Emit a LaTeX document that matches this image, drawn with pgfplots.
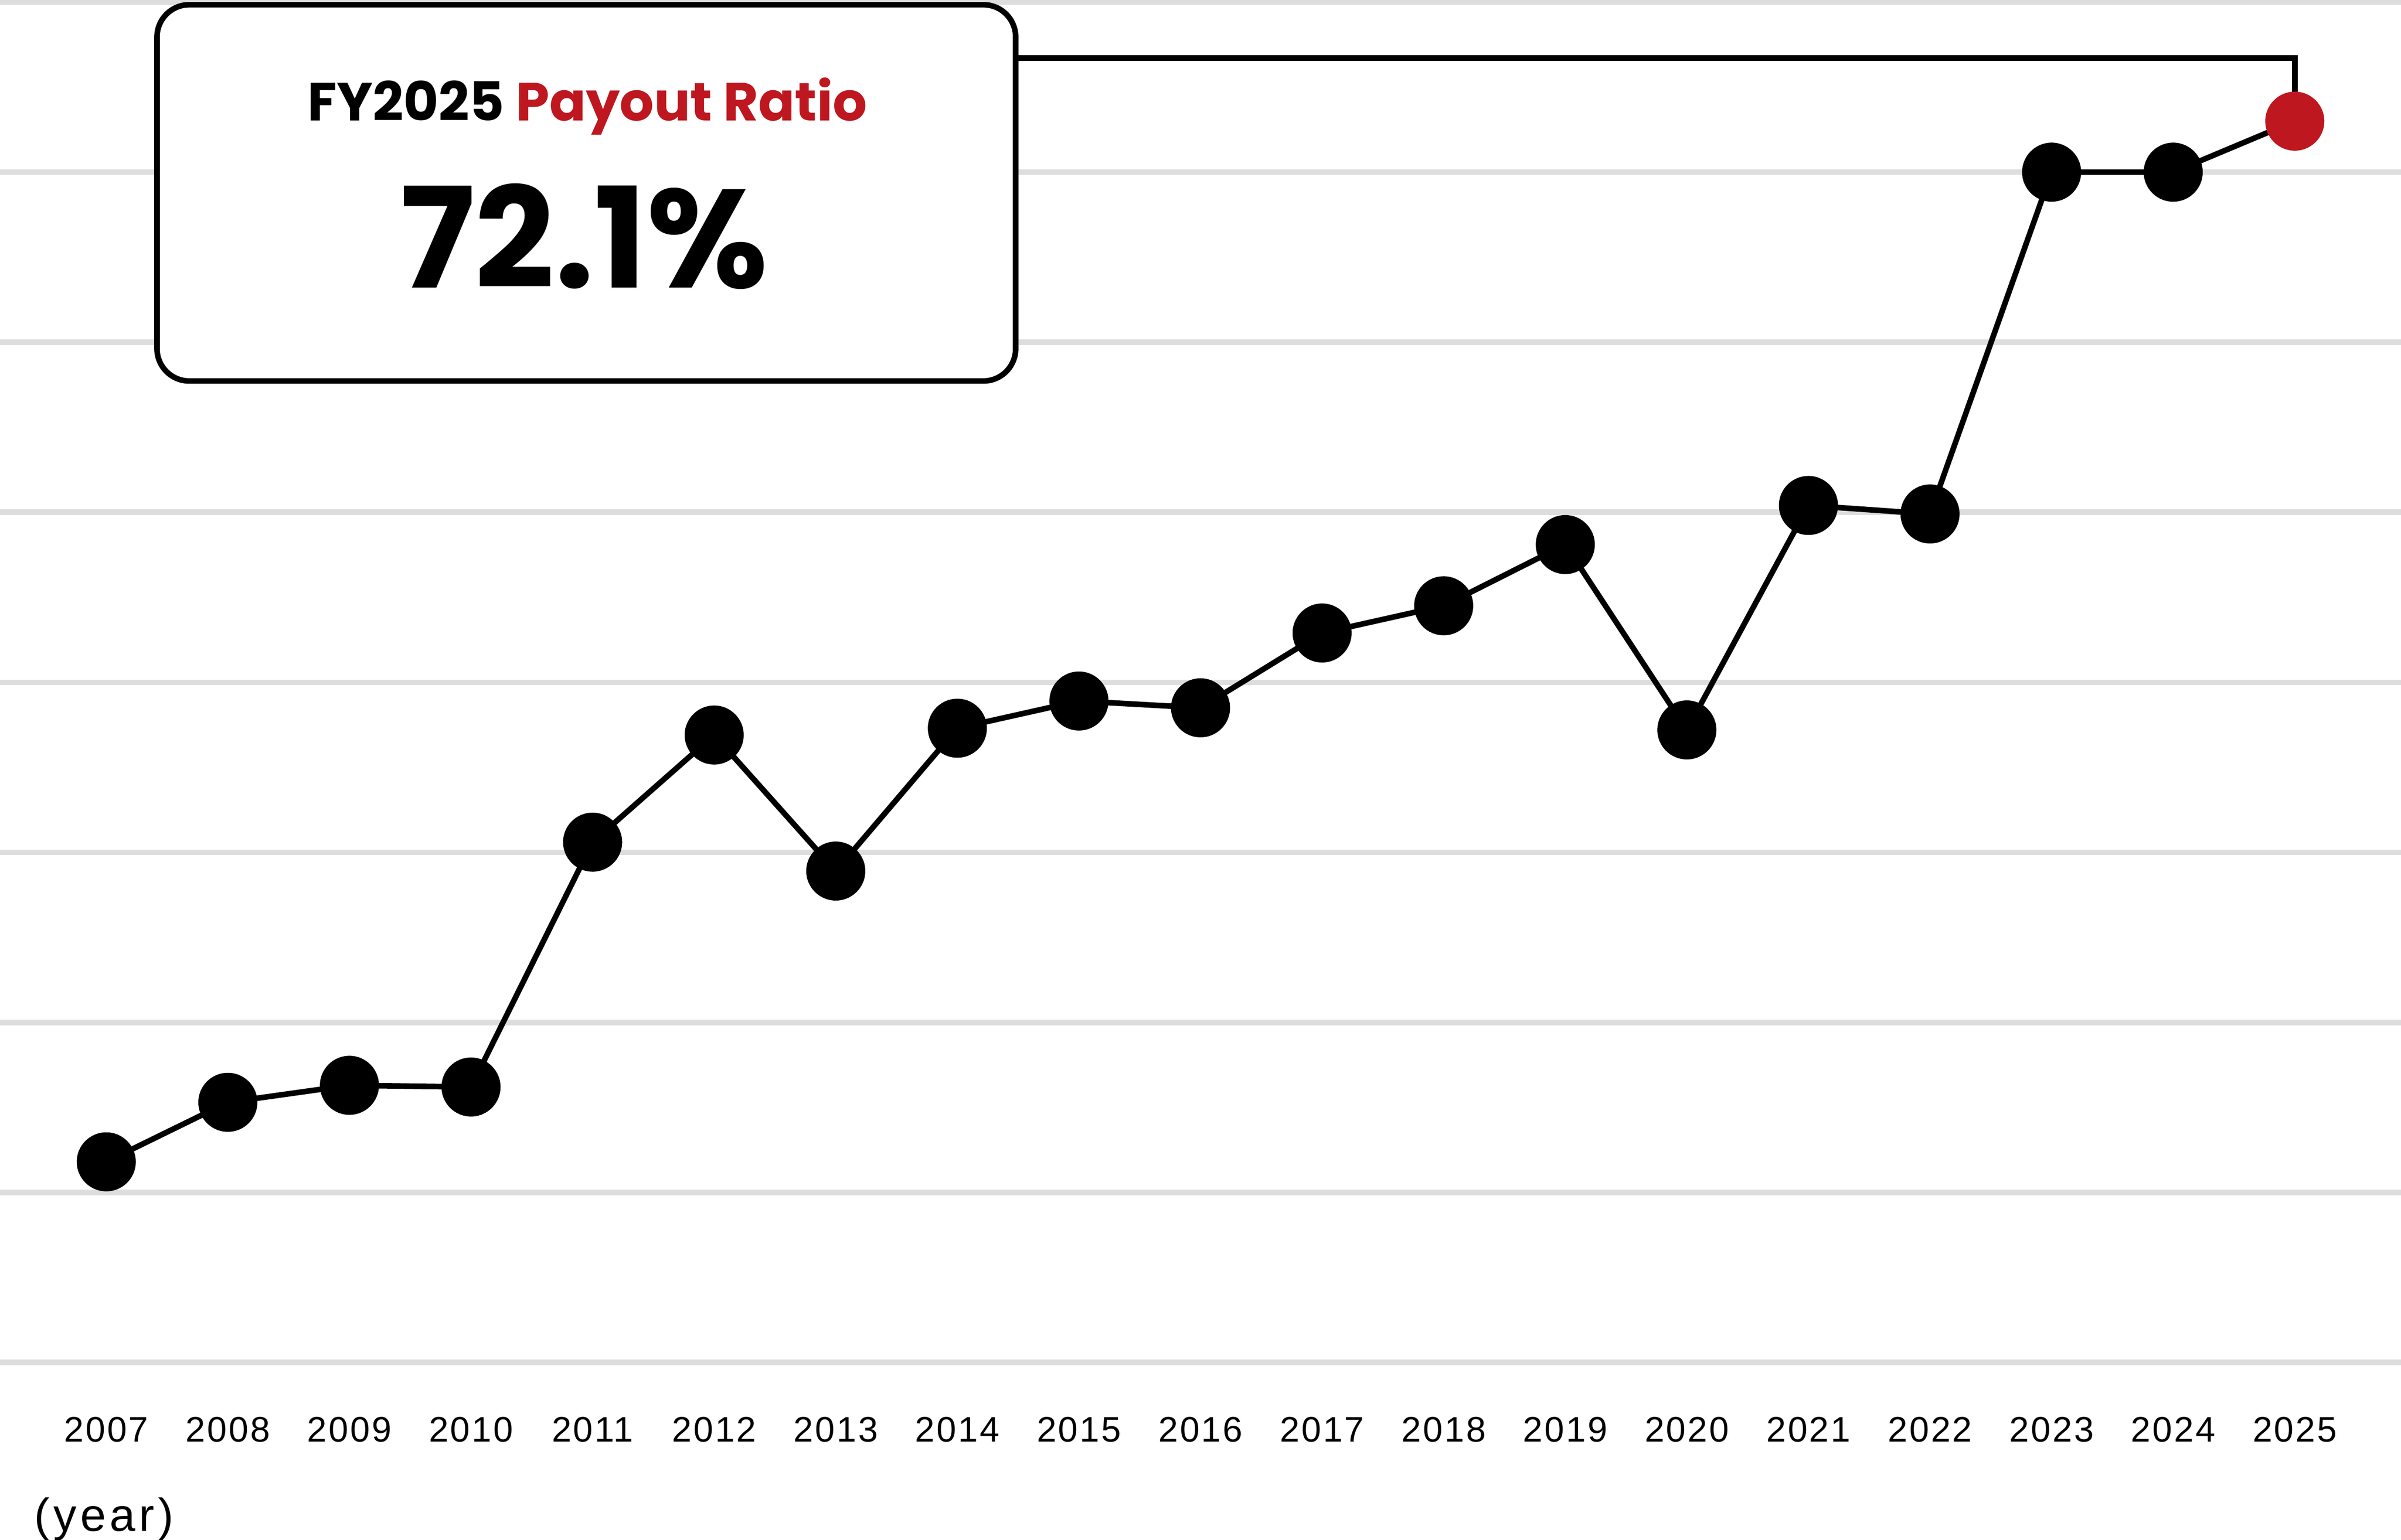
\documentclass[border=0pt]{standalone}
\usepackage{fontspec}
\usepackage{pgfplots}
\pgfplotsset{compat=1.18}
\setmainfont{Liberation Sans}
\newfontfamily\tickfont[LetterSpace=5]{Liberation Sans}
\newfontfamily\yearfont[LetterSpace=8]{Liberation Sans}
\newfontfamily\poppins{Poppins}

\definecolor{payred}{RGB}{190,23,32}
\definecolor{gridgray}{HTML}{DDDDDD}

\begin{document}
\begin{tikzpicture}
\begin{axis}[
    name=main,
    scale only axis,
    width=446.48pt, height=253.04pt,
    xmin=2006.126, xmax=2025.874,
    ymin=0, ymax=80,
    clip=false,
    axis line style={draw=none},
    major tick style={draw=none},
    xtick={2007,2008,...,2025},
    ytick={0,10,...,80},
    yticklabels={},
    ymajorgrids,
    major grid style={line width=1.04pt, color=gridgray},
    /pgf/number format/1000 sep={},
    /pgf/number format/assume math mode=true,
    xticklabel style={font=\tickfont\fontsize{6.6}{7}\selectfont, anchor=base, yshift=-14.8pt},
]
% line through all years
\addplot[line width=1.04pt, black, no marks] coordinates {
    (2007,11.8) (2008,15.3) (2009,16.3) (2010,16.2) (2011,30.6)
    (2012,36.9) (2013,28.9) (2014,37.3) (2015,38.9) (2016,38.5)
    (2017,42.9) (2018,44.5) (2019,48.1) (2020,37.2) (2021,50.4)
    (2022,49.9) (2023,70.0) (2024,70.0) (2025,73.0)
};
% black dots up to 2024
\addplot[only marks, black, mark=*, mark size=5.44pt,
         mark options={fill=black, draw=black, line width=0.1pt}] coordinates {
    (2007,11.8) (2008,15.3) (2009,16.3) (2010,16.2) (2011,30.6)
    (2012,36.9) (2013,28.9) (2014,37.3) (2015,38.9) (2016,38.5)
    (2017,42.9) (2018,44.5) (2019,48.1) (2020,37.2) (2021,50.4)
    (2022,49.9) (2023,70.0) (2024,70.0)
};
% highlighted 2025
\addplot[only marks, payred, mark=*, mark size=5.44pt,
         mark options={fill=payred, draw=payred, line width=0.1pt}] coordinates {(2025,73.0)};

% callout box and connector
\draw[line width=1.04pt, rounded corners=6pt, fill=white]
    (rel axis cs:0.0654,0.7215) rectangle (rel axis cs:0.4230,0.9981);
\draw[line width=1.04pt] (rel axis cs:0.4230,0.9589) -| (axis cs:2025,73.0);
\node[anchor=base, inner sep=0pt, font=\poppins\bfseries\fontsize{10.0}{12}\selectfont]
    at (rel axis cs:0.2446,0.9127) {FY2025 \textcolor{payred}{Payout Ratio}};
\node[anchor=base, inner sep=0pt, font=\poppins\bfseries\fontsize{26}{30}\selectfont]
    at (rel axis cs:0.2433,0.7901) {72.1\%};
\node[anchor=base west, inner sep=0pt, font=\yearfont\fontsize{8.6}{10}\selectfont]
    at ([xshift=6.2pt, yshift=-31.4pt]rel axis cs:0,0) {(year)};
\end{axis}
\pgfresetboundingbox
\path[use as bounding box] ([yshift=-32.96pt]main.south west) rectangle ([yshift=0.4pt]main.north east);
\end{tikzpicture}
\end{document}
